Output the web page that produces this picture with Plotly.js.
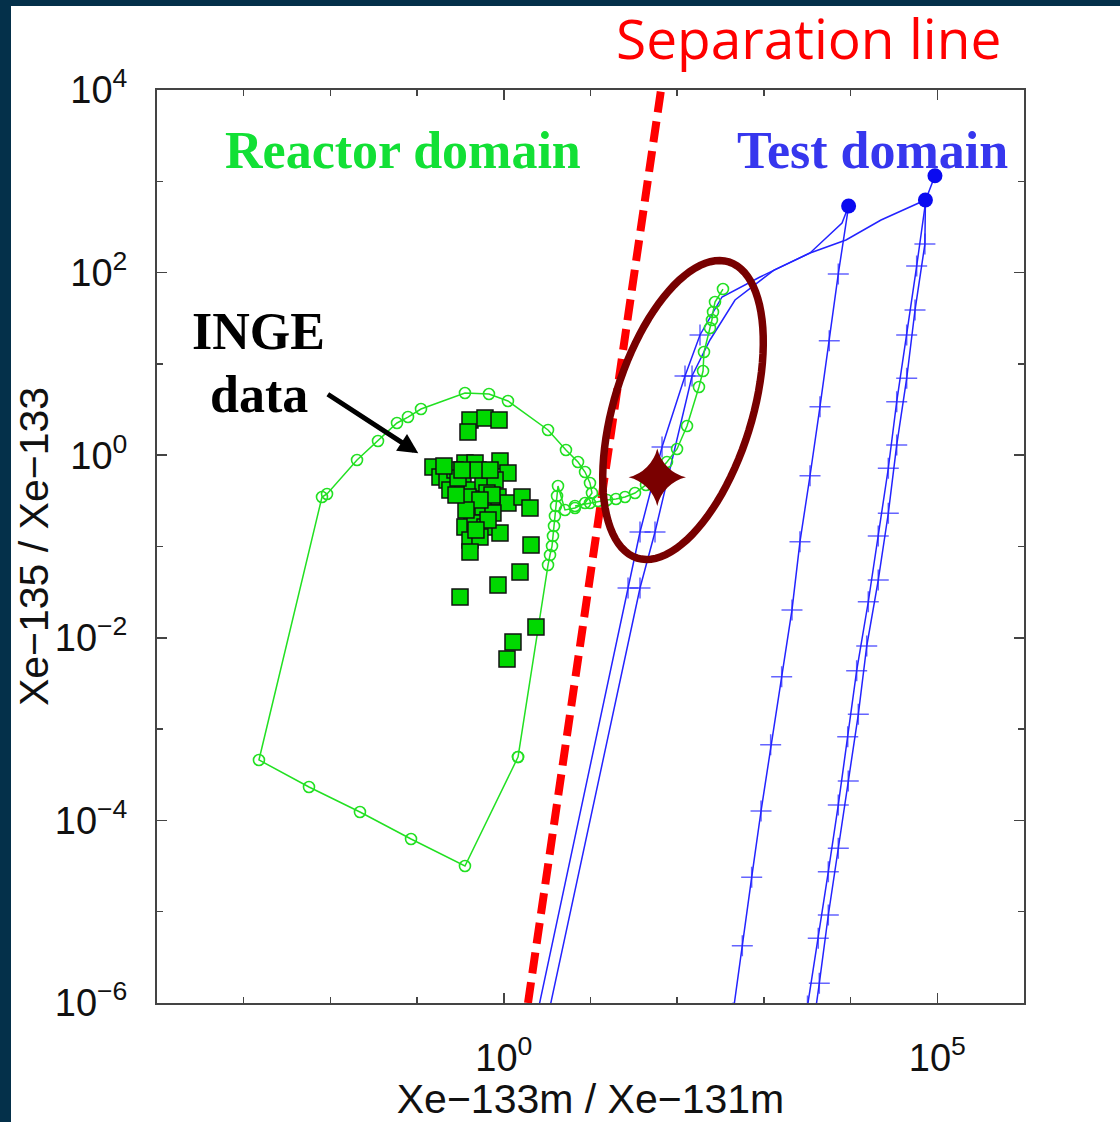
<!DOCTYPE html>
<html>
<head>
<meta charset="utf-8">
<script src="https://cdn.plot.ly/plotly-3.0.1.min.js"></script>
<style>
  html, body { margin: 0; padding: 0; width: 1120px; height: 1122px; overflow: hidden; background: #04304a; }
  #chart { position: absolute; left: 11px; top: 0; width: 1109px; height: 1122px; background: #ffffff; }
  #band { position: absolute; left: 0; top: 0; width: 1120px; height: 6px; background: #04304a; z-index: 5; }
</style>
</head>
<body>
<div id="chart"></div>
<div id="band"></div>
<script>
// All positions below are log10 of the activity ratios:
//   x = log10(Xe-133m / Xe-131m), y = log10(Xe-135 / Xe-133)

// Reactor operation loop (open green circles)
const reactorLoopLogX = [0.164, -0.448, -1.070, -1.659, -2.247, -2.824, -2.097, -2.039, -1.693, -1.451,
  -1.232, -1.105, -0.955, -0.448, -0.171, 0.048, 0.510, 0.717, 0.856, 0.937,
  0.994, 1.017, 0.937, 0.821, 0.706, 0.625, 0.614, 0.602, 0.590, 0.579,
  0.567, 0.556, 0.533, 0.510, 0.164];
const reactorLoopLogY = [-3.306, -4.499, -4.204, -3.908, -3.634, -3.338, -0.458, -0.425, -0.053, 0.156,
  0.353, 0.418, 0.506, 0.681, 0.670, 0.594, 0.276, 0.057, -0.074, -0.184,
  -0.304, -0.414, -0.524, -0.578, -0.600, -0.337, -0.447, -0.556, -0.666, -0.775,
  -0.885, -0.995, -1.093, -1.203, -3.306];

// Reactor trajectory running into the test domain
const reactorTailLogX = [0.821, 0.994, 1.087, 1.190, 1.294, 1.398, 1.513, 1.640, 1.882, 1.998,
  2.113, 2.251, 2.298, 2.309, 2.378, 2.401, 2.413, 2.436, 2.528];
const reactorTailLogY = [-0.556, -0.524, -0.502, -0.491, -0.480, -0.458, -0.414, -0.326, -0.074, 0.068,
  0.320, 0.747, 0.922, 1.130, 1.393, 1.481, 1.568, 1.678, 1.820];

// INGE measurements (green squares)
const ingeLogX = [-0.390, -0.217, -0.055, -0.413, -0.448, -0.332, -0.044, -0.817, -0.736, -0.655,
  -0.563, 0.048, -0.621, -0.471, -0.367, -0.240, -0.101, -0.194, -0.067, 0.048,
  0.210, 0.302, -0.390, -0.298, -0.367, -0.240, -0.125, -0.448, -0.332, -0.217,
  -0.044, -0.390, -0.275, -0.390, 0.314, 0.187, -0.067, -0.505, 0.371, 0.106,
  0.037, -0.528, -0.298, -0.159, -0.136, -0.413, -0.275, -0.182, -0.321, -0.436,
  -0.551, -0.690, -0.482];
const ingeLogY = [0.386, 0.407, 0.386, 0.254, -0.085, -0.085, -0.064, -0.129, -0.239, -0.272,
  -0.162, -0.195, -0.381, -0.304, -0.381, -0.304, -0.272, -0.414, -0.458, -0.524,
  -0.458, -0.578, -0.524, -0.633, -0.677, -0.567, -0.633, -0.786, -0.743, -0.786,
  -0.852, -0.929, -0.896, -1.060, -0.984, -1.279, -1.422, -1.553, -1.882, -2.046,
  -2.232, -0.250, -0.162, -0.162, -0.436, -0.458, -0.491, -0.710, -0.819, -0.600,
  -0.436, -0.118, -0.162];

// Nuclear test scenarios (blue): build-up, then decay with '+' time steps.
// Step codes: 0 = no marker, 1 = '+' time step, 2 = peak (filled circle)
const testALogX = [0.175, 1.433, 1.571, 1.825, 2.090, 2.263, 2.517, 2.955, 3.532, 3.901, 3.977,
  3.858, 3.754, 3.647, 3.532, 3.416, 3.324, 3.205, 3.078, 2.967, 2.859, 2.751, 2.644];
const testALogY = [-7.062, -1.455, -0.841, 0.090, 0.867, 1.317, 1.733, 1.952, 2.215, 2.543, 2.729,
  1.985, 1.254, 0.531, -0.225, -0.947, -1.695, -2.426, -3.171, -3.897, -4.623, -5.372, -6.109];
const testAStep = [0, 1, 1, 1, 1, 1, 0, 0, 0, 0, 2, 1, 1, 1, 1, 1, 1, 1, 1, 1, 1, 1, 1];

const testBLogX = [0.302, 1.571, 1.744, 2.171, 2.378, 2.667, 3.116, 3.532, 3.947, 4.351, 4.863,
  4.857, 4.743, 4.647, 4.532, 4.435, 4.319, 4.186, 4.089, 3.973, 3.858, 3.743, 3.639, 3.532];
const testBLogY = [-7.062, -1.455, -0.841, 0.867, 1.262, 1.700, 2.028, 2.215, 2.357, 2.576, 2.795,
  2.313, 1.590, 0.842, 0.112, -0.636, -1.367, -2.090, -2.838, -3.568, -4.306, -5.036, -5.784, -6.515];
const testBStep = [0, 1, 1, 1, 0, 0, 0, 0, 0, 0, 2, 1, 1, 1, 1, 1, 1, 1, 1, 1, 1, 1, 1, 1];

const testCLogX = [4.973, 4.870, 4.762, 4.647, 4.532, 4.435, 4.319, 4.204, 4.070, 3.967,
  3.858, 3.743, 3.627, 3.503];
const testCLogY = [3.061, 2.806, 2.072, 1.317, 0.586, -0.143, -0.885, -1.605, -2.360, -3.083,
  -3.831, -4.562, -5.291, -6.033];
const testCStep = [2, 0, 1, 1, 1, 1, 1, 1, 1, 1, 1, 1, 1, 1];

// Separation line between the two domains
const separationLogX = [0.279, 1.813];
const separationLogY = [-6, 4];

// Highlighted sample (star) and the region around it
const sampleLogX = [1.770];
const sampleLogY = [-0.242];
const highlight = { logX: 2.067, logY: 0.495, semiMajorPx: 155, semiMinorPx: 69, tiltDeg: 72.8 };

// Axis ticks
const xTickVals = [1, 1e5];
const xTickText = ['10<sup>0</sup>', '10<sup>5</sup>'];
const xMinorVals = [1e-3, 1e-2, 1e-1, 1e1, 1e2, 1e3, 1e4];
const yTickVals = [1e-6, 1e-4, 1e-2, 1, 1e2, 1e4];
const yTickText = ['10<sup>\u22126</sup>', '10<sup>\u22124</sup>', '10<sup>\u22122</sup>', '10<sup>0</sup>', '10<sup>2</sup>', '10<sup>4</sup>'];
const yMinorVals = [1e-5, 1e-3, 1e-1, 1e1, 1e3];

const pow10 = a => a.map(v => Math.pow(10, v));

const BLUE = 'rgb(35,35,255)';
const GREEN = '#22e022';
const SANS = 'Liberation Sans, Arial, sans-serif';
const SERIF = 'Liberation Serif, Times New Roman, serif';

// Trajectory line with '+' at each time step
function testTrace(lx, ly, steps) {
  return {
    x: pow10(lx), y: pow10(ly), type: 'scatter', mode: 'lines+markers',
    line: { color: BLUE, width: 1.5 },
    marker: {
      symbol: 'cross-thin',
      size: steps.map(s => s === 1 ? 15 : 0),
      color: BLUE,
      line: { color: BLUE, width: 1.5 }
    },
    hoverinfo: 'skip', showlegend: false
  };
}

// Peak of each trajectory as a filled circle
function peakTrace(lx, ly, steps) {
  const px = [], py = [];
  steps.forEach((s, i) => { if (s === 2) { px.push(lx[i]); py.push(ly[i]); } });
  return {
    x: pow10(px), y: pow10(py), type: 'scatter', mode: 'markers',
    marker: { symbol: 'circle', size: 15, color: 'rgb(10,10,240)', line: { width: 0 } },
    hoverinfo: 'skip', showlegend: false
  };
}

const traces = [
  testTrace(testALogX, testALogY, testAStep),
  testTrace(testBLogX, testBLogY, testBStep),
  testTrace(testCLogX, testCLogY, testCStep),
  peakTrace(testALogX, testALogY, testAStep),
  peakTrace(testBLogX, testBLogY, testBStep),
  peakTrace(testCLogX, testCLogY, testCStep),
  {
    x: pow10(separationLogX), y: pow10(separationLogY), type: 'scatter', mode: 'lines',
    line: { color: '#ff0000', width: 8, dash: '21px,9px' }, showlegend: false
  },
  {
    x: pow10(reactorLoopLogX), y: pow10(reactorLoopLogY), type: 'scatter', mode: 'lines+markers',
    line: { color: GREEN, width: 1.5 },
    marker: { symbol: 'circle-open', size: 11, color: GREEN, line: { width: 1.6 } }, showlegend: false
  },
  {
    x: pow10(reactorTailLogX), y: pow10(reactorTailLogY), type: 'scatter', mode: 'lines+markers',
    line: { color: GREEN, width: 1.5 },
    marker: { symbol: 'circle-open', size: 11, color: GREEN, line: { width: 1.6 } }, showlegend: false
  },
  {
    x: pow10(ingeLogX), y: pow10(ingeLogY), type: 'scatter', mode: 'markers',
    marker: { symbol: 'square', size: 16, color: '#00d800', line: { color: '#111', width: 1.5 } },
    showlegend: false
  },
  {
    x: pow10(sampleLogX), y: pow10(sampleLogY), type: 'scatter', mode: 'markers',
    marker: { symbol: 'star-diamond', size: 41, color: '#7a0000', line: { width: 0 } },
    showlegend: false
  }
];

// Plot area geometry (px)
const M = { l: 146, r: 96, t: 90, b: 119 };
const W = 1109, H = 1122;
const plotW = W - M.l - M.r, plotH = H - M.t - M.b;
const xRange = [-4, 6], yRange = [-6, 4];

// Tilted ellipse around the highlighted region, in paper coordinates
function ellipsePath(e) {
  const cx = (e.logX - xRange[0]) / (xRange[1] - xRange[0]);
  const cy = (e.logY - yRange[0]) / (yRange[1] - yRange[0]);
  const phi = e.tiltDeg * Math.PI / 180;
  const pts = [];
  for (let i = 0; i < 96; i++) {
    const t = 2 * Math.PI * i / 96;
    const dx = e.semiMajorPx * Math.cos(t) * Math.cos(phi) - e.semiMinorPx * Math.sin(t) * Math.sin(phi);
    const dy = e.semiMajorPx * Math.cos(t) * Math.sin(phi) + e.semiMinorPx * Math.sin(t) * Math.cos(phi);
    pts.push((cx + dx / plotW).toFixed(5) + ',' + (cy + dy / plotH).toFixed(5));
  }
  return 'M' + pts.join('L') + 'Z';
}

const axisCommon = {
  type: 'log', showgrid: false, zeroline: false,
  showline: true, linecolor: '#444', linewidth: 2, mirror: 'ticks',
  ticks: 'inside', ticklen: 10, tickwidth: 1.5, tickcolor: '#444',
  tickmode: 'array', tickfont: { family: SANS, size: 38, color: '#111' }
};

const layout = {
  width: W, height: H, margin: M,
  paper_bgcolor: '#ffffff', plot_bgcolor: '#ffffff',
  font: { family: SANS, color: '#111' },
  showlegend: false,
  xaxis: Object.assign({}, axisCommon, {
    range: xRange, tickvals: xTickVals, ticktext: xTickText, ticklabelstandoff: 20,
    minor: { tickmode: 'array', tickvals: xMinorVals, ticks: 'inside', ticklen: 6, tickwidth: 1.5, tickcolor: '#444', showgrid: false },
    title: { text: 'Xe\u2212133m / Xe\u2212131m', font: { family: SANS, size: 41, color: '#111' }, standoff: 9 }
  }),
  yaxis: Object.assign({}, axisCommon, {
    range: yRange, tickvals: yTickVals, ticktext: yTickText, ticklabelstandoff: 20,
    minor: { tickmode: 'array', tickvals: yMinorVals, ticks: 'inside', ticklen: 6, tickwidth: 1.5, tickcolor: '#444', showgrid: false },
    title: { text: 'Xe\u2212135 / Xe\u2212133', font: { family: SANS, size: 41, color: '#111' }, standoff: 6 }
  }),
  shapes: [{
    type: 'path', xref: 'paper', yref: 'paper', path: ellipsePath(highlight),
    line: { color: '#780000', width: 7.5 }, layer: 'above'
  }],
  annotations: [
    { xref: 'paper', yref: 'paper', x: 0.752, y: 1.058, text: 'Separation line', showarrow: false,
      xanchor: 'center', yanchor: 'middle', font: { family: 'Open Sans, Noto Sans, sans-serif', size: 55, color: '#ff0000' } },
    { xref: 'paper', yref: 'paper', x: 0.284, y: 0.934, text: '<b>Reactor domain</b>', showarrow: false,
      xanchor: 'center', yanchor: 'middle', font: { family: SERIF, size: 52, color: '#12e035' } },
    { xref: 'paper', yref: 'paper', x: 0.825, y: 0.934, text: '<b>Test domain</b>', showarrow: false,
      xanchor: 'center', yanchor: 'middle', font: { family: SERIF, size: 52, color: '#3636ee' } },
    { xref: 'paper', yref: 'paper', x: 0.117, y: 0.7355, text: '<b>INGE</b>', showarrow: false,
      xanchor: 'center', yanchor: 'middle', font: { family: SERIF, size: 52, color: '#000' } },
    { xref: 'paper', yref: 'paper', x: 0.1176, y: 0.666, text: '<b>data</b>', showarrow: false,
      xanchor: 'center', yanchor: 'middle', font: { family: SERIF, size: 52, color: '#000' } },
    { xref: 'x', yref: 'y', x: -0.986, y: 0.021, ax: -92, ay: -60, text: '', showarrow: true,
      arrowhead: 2, arrowsize: 0.8, arrowwidth: 5, arrowcolor: '#000', standoff: 0 }
  ]
};

Plotly.newPlot('chart', traces, layout, { staticPlot: true, displayModeBar: false });
</script>
</body>
</html>
